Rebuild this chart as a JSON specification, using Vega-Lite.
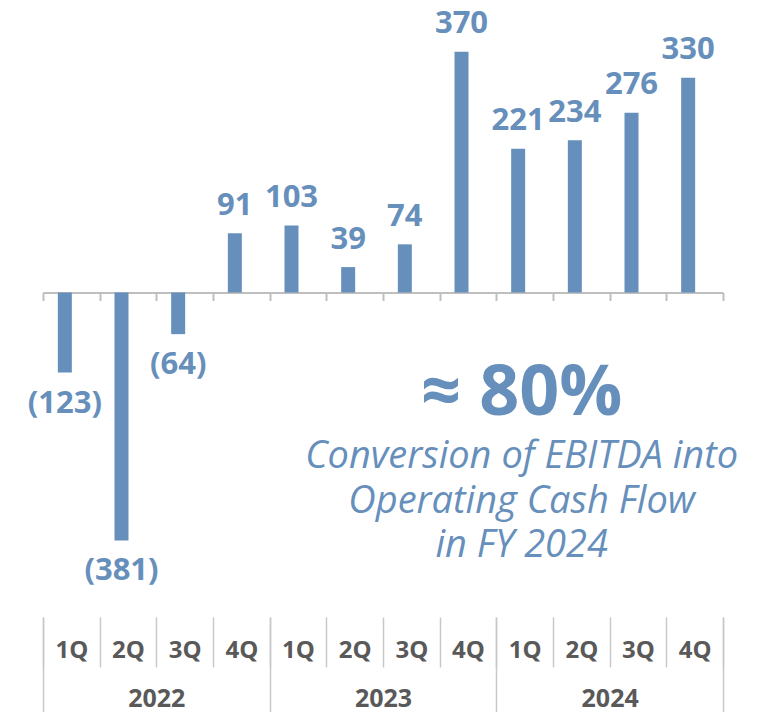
{
  "$schema": "https://vega.github.io/schema/vega-lite/v6.json",
  "width": 680,
  "height": 617,
  "autosize": "none",
  "padding": {"left": 43, "right": 46, "top": 0, "bottom": 95},
  "background": "white",
  "config": {"view": {"stroke": null}, "font": "Open Sans"},
  "data": {"values": [
    {"key": "2022 1Q", "year": "2022", "q": "1Q", "value": -123},
    {"key": "2022 2Q", "year": "2022", "q": "2Q", "value": -381},
    {"key": "2022 3Q", "year": "2022", "q": "3Q", "value": -64},
    {"key": "2022 4Q", "year": "2022", "q": "4Q", "value": 91},
    {"key": "2023 1Q", "year": "2023", "q": "1Q", "value": 103},
    {"key": "2023 2Q", "year": "2023", "q": "2Q", "value": 39},
    {"key": "2023 3Q", "year": "2023", "q": "3Q", "value": 74},
    {"key": "2023 4Q", "year": "2023", "q": "4Q", "value": 370},
    {"key": "2024 1Q", "year": "2024", "q": "1Q", "value": 221},
    {"key": "2024 2Q", "year": "2024", "q": "2Q", "value": 234},
    {"key": "2024 3Q", "year": "2024", "q": "3Q", "value": 276},
    {"key": "2024 4Q", "year": "2024", "q": "4Q", "value": 330}
  ]},
  "resolve": {"scale": {"x": "independent"}, "axis": {"x": "independent"}},
  "layer": [
    {
      "layer": [
        {
          "mark": {"type": "bar", "width": 14, "xOffset": -6.5, "color": "#668FBB"},
          "encoding": {
            "x": {
              "field": "key", "type": "nominal",
              "scale": {"paddingInner": 0, "paddingOuter": 0},
              "axis": {
                "orient": "bottom", "offset": -324.5, "title": null, "labels": false,
                "domainColor": "#bfbfbf", "domainWidth": 2,
                "ticks": true, "tickBand": "extent", "tickSize": 8,
                "tickColor": "#bfbfbf", "tickWidth": 2, "grid": false
              }
            },
            "y": {
              "field": "value", "type": "quantitative",
              "scale": {"domain": [-498.6, 449.4], "nice": false, "zero": false},
              "axis": null
            }
          }
        },
        {
          "transform": [{"filter": "datum.value >= 0"}],
          "mark": {"type": "text", "fontSize": 31, "fontWeight": "bold", "color": "#668FBB", "baseline": "alphabetic", "dy": -18.5, "dx": -6.5},
          "encoding": {
            "x": {"field": "key", "type": "nominal"},
            "y": {"field": "value", "type": "quantitative"},
            "text": {"field": "value", "type": "quantitative", "format": "(.0f"}
          }
        },
        {
          "transform": [{"filter": "datum.value < 0"}],
          "mark": {"type": "text", "fontSize": 31, "fontWeight": "bold", "color": "#668FBB", "baseline": "alphabetic", "dy": 40, "dx": -6.5},
          "encoding": {
            "x": {"field": "key", "type": "nominal"},
            "y": {"field": "value", "type": "quantitative"},
            "text": {"field": "value", "type": "quantitative", "format": "(.0f"}
          }
        },
        {
          "data": {"values": [{}]},
          "mark": {"type": "text", "text": "≈ 80%", "fontSize": 70, "fontWeight": "bold", "color": "#668FBB", "baseline": "alphabetic", "dx": -3},
          "encoding": {
            "x": {"datum": "2024 1Q", "type": "nominal"},
            "y": {"datum": -188.2, "type": "quantitative"}
          }
        },
        {
          "data": {"values": [{}]},
          "mark": {"type": "text", "text": ["Conversion of EBITDA into", "Operating Cash Flow", "in FY 2024"], "fontSize": 38, "fontStyle": "italic", "lineHeight": 44.5, "color": "#668FBB", "baseline": "alphabetic", "dx": -3},
          "encoding": {
            "x": {"datum": "2024 1Q", "type": "nominal"},
            "y": {"datum": -269.7, "type": "quantitative"}
          }
        }
      ]
    },
    {
      "mark": {"type": "point", "opacity": 0},
      "encoding": {
        "x": {
          "field": "key", "type": "nominal",
          "scale": {"paddingInner": 0, "paddingOuter": 0},
          "axis": {
            "orient": "bottom", "offset": 0, "title": null, "domain": false, "grid": false,
            "ticks": true, "tickBand": "extent", "tickSize": 50, "tickColor": "#c8c8c8", "tickWidth": 1.5,
            "labelExpr": "split(datum.label, ' ')[1]", "labelAngle": 0,
            "labelFont": "Open Sans", "labelFontWeight": "bold", "labelFontSize": 24, "labelColor": "#595959",
            "labelBaseline": "middle", "labelPadding": -17, "labelOverlap": false, "labelBound": false
          }
        }
      }
    },
    {
      "mark": {"type": "point", "opacity": 0},
      "encoding": {
        "x": {
          "field": "year", "type": "nominal",
          "scale": {"paddingInner": 0, "paddingOuter": 0},
          "axis": {
            "orient": "bottom", "offset": 0, "title": null, "domain": false, "grid": false,
            "ticks": true, "tickBand": "extent", "tickSize": 95, "tickColor": "#c8c8c8", "tickWidth": 1.5,
            "labelAngle": 0,
            "labelFont": "Open Sans", "labelFontWeight": "bold", "labelFontSize": 25, "labelColor": "#595959",
            "labelBaseline": "middle", "labelPadding": -14, "labelOverlap": false, "labelBound": false
          }
        }
      }
    }
  ]
}
